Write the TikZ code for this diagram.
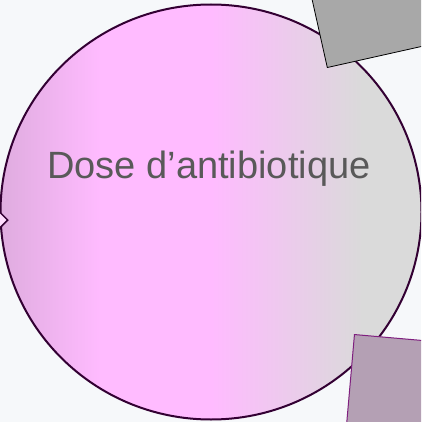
\documentclass[tikz,border=0pt]{standalone}
\usepackage{fontspec}
\setmainfont{Liberation Sans}
\usetikzlibrary{shapes.geometric}
\definecolor{bgpale}{HTML}{F6F8FA}
\definecolor{doseedge}{HTML}{DFACDF}
\definecolor{dosepink}{HTML}{FFBBFF}
\definecolor{dosegrey}{HTML}{DADADA}
\definecolor{doseline}{HTML}{330033}
\definecolor{dosetext}{HTML}{595959}
\definecolor{boxgrey}{HTML}{A8A8A8}
\definecolor{boxmauve}{HTML}{B4A0B4}
\definecolor{boxline}{HTML}{7F1F7F}
\pgfdeclarehorizontalshading{dosefill}{100bp}{color(0bp)=(doseedge); color(25bp)=(doseedge); color(37bp)=(dosepink); color(50bp)=(dosepink); color(68bp)=(dosegrey); color(100bp)=(dosegrey)}
\tikzset{
    dosenode/.style={ellipse, shading=dosefill, draw=doseline, line width=2pt, minimum width=421pt, minimum height=415pt, inner sep=0pt},
    greybox/.style={rectangle, fill=boxgrey, draw=black, line width=0.8pt, minimum width=160pt, minimum height=130pt},
    mauvebox/.style={rectangle, fill=boxmauve, draw=boxline, line width=1pt, minimum width=160pt, minimum height=130pt},
    linkmark/.style={diamond, fill=dosepink!50!white, draw=doseline, line width=1.5pt, minimum size=30pt, inner sep=0pt}
}
\begin{document}
\begin{tikzpicture}[x=1pt, y=-1pt]
    % background
    \fill[bgpale] (0,0) rectangle (421,422);
    \useasboundingbox (0,0) rectangle (421,422);
    \begin{scope}
    \clip (0,0) rectangle (421,422);
    % main circle
    \node[dosenode] (dose) at (211,212) {};
    \node[anchor=base, text=dosetext, font=\fontsize{38}{45}\selectfont] (doselabel) at (209,178) {Dose d’antibiotique};
    % neighbour shapes
    \node[linkmark] (mark) at (-7,220) {};
    \node[greybox, rotate=12.6, anchor=south west] (topbox) at (327,68) {};
    \node[mauvebox, rotate=-5, anchor=north west] (lowbox) at (354,334) {};
    \end{scope}
\end{tikzpicture}
\end{document}
